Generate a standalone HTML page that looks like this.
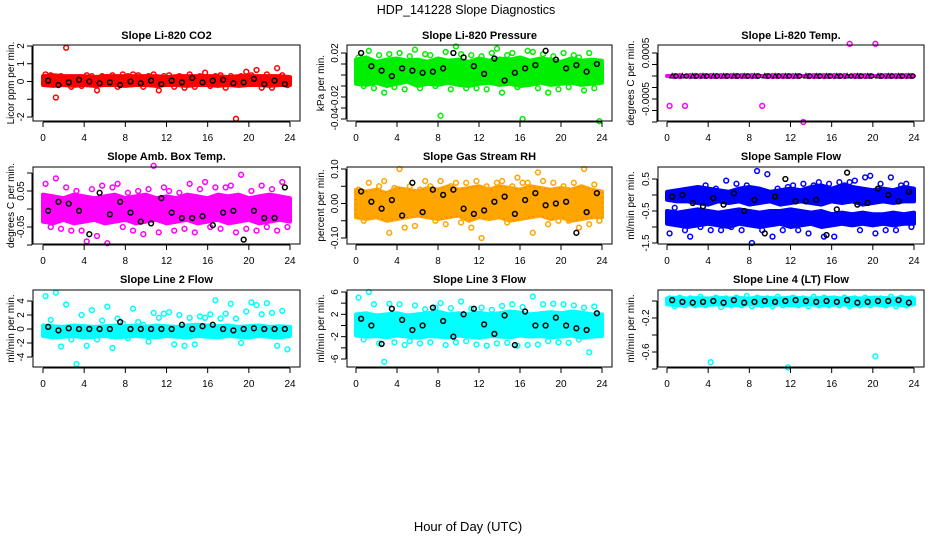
<!DOCTYPE html>
<html><head><meta charset="utf-8">
<style>
html,body{margin:0;padding:0;background:#fff;}
svg{display:block;font-family:"Liberation Sans",sans-serif;}
</style></head>
<body>
<svg id="chart" width="936" height="540" viewBox="0 0 936 540">
<text x="466" y="14" text-anchor="middle" font-size="12.5">HDP_141228  Slope Diagnostics</text>
<text x="468" y="531" text-anchor="middle" font-size="13">Hour of Day (UTC)</text>
</svg>
<script>
const xTicks = [0,4,8,12,16,20,24];

const co2Hi = [0.3,0.35,0.3,0.3,0.3,0.25,0.3,0.3,0.3,0.3,0.3,0.3,0.25,0.3,0.3,0.3,0.3,0.3,0.25,0.3,0.3,0.3,0.3,0.3,0.25];
const co2Lo = [-0.2,-0.25,-0.2,-0.25,-0.2,-0.25,-0.2,-0.2,-0.25,-0.2,-0.2,-0.25,-0.2,-0.2,-0.25,-0.2,-0.2,-0.25,-0.2,-0.25,-0.2,-0.2,-0.25,-0.2,-0.2];
const co2Pts = [0.4,0.35,-0.9,0.3,1.9,-0.3,0.2,-0.25,0.35,0.3,-0.5,0.3,0.25,0.35,-0.3,0.4,0.3,0.4,0.35,-0.3,0.3,0.4,-0.5,0.3,0.35,-0.3,0.3,-0.35,0.4,-0.3,0.3,0.5,-0.25,0.3,0.35,-0.35,0.3,-2.1,0.3,0.55,0.35,0.65,-0.35,0.4,-0.35,0.75,0.35,-0.2];
const co2Black = [0.05,-0.2,-0.05,0.1,0.0,-0.1,-0.05,-0.2,0.0,-0.1,0.05,-0.15,0.05,-0.05,0.2,-0.05,0.05,0.1,-0.1,-0.05,0.15,-0.15,0.05,-0.15];

const presHi = [0.014,0.016,0.012,0.014,0.015,0.013,0.014,0.012,0.015,0.013,0.014,0.012,0.015,0.013,0.015,0.014,0.016,0.013,0.015,0.014,0.012,0.015,0.013,0.014,0.013];
const presLo = [-0.008,-0.009,-0.007,-0.01,-0.008,-0.006,-0.01,-0.008,-0.009,-0.007,-0.009,-0.01,-0.008,-0.007,-0.009,-0.008,-0.01,-0.009,-0.007,-0.009,-0.008,-0.007,-0.009,-0.008,-0.007];
const presPts = [0.016,-0.01,0.022,-0.012,0.018,-0.016,0.019,-0.011,0.02,-0.013,0.017,0.023,-0.012,0.019,0.018,-0.01,-0.037,0.021,-0.013,0.026,0.019,-0.012,0.018,-0.012,0.017,-0.013,0.02,0.024,-0.016,0.018,0.02,-0.011,-0.04,0.022,0.021,-0.012,0.019,-0.016,0.017,-0.013,0.02,-0.011,0.018,0.016,-0.014,0.02,-0.012,-0.042];
const presBlack = [0.02,0.008,0.004,-0.001,0.006,0.004,0.002,0.003,0.006,0.02,0.016,0.008,0.001,0.015,-0.005,0.002,0.006,0.009,0.022,0.014,0.006,0.009,0.003,0.01];

const tempHi = [0,0,0,0,0,0,0,0,0,0,0,0,0,0,0,0,0,0,0,0,0,0,0,0,0];
const tempLo = [0,0,0,0,0,0,0,0,0,0,0,0,0,0,0,0,0,0,0,0,0,0,0,0,0];
const tempPts = [-0.00065,0,0,-0.00065,0,0,0,0,0,0,0,0,0,0,0,0,0,0,-0.00065,0,0,0,0,0,0,0,-0.001,0,0,0,0,0,0,0,0,0.0007,0,0,0,0,0.0007,0,0,0,0,0,0,0];
const tempBlack = [0,0,0,0,0,0,0,0,0,0,0,0,0,0,0,0,0,0,0,0,0,0,0,0];

const ambHi = [0.04,0.035,0.03,0.04,0.035,0.03,0.035,0.04,0.03,0.035,0.04,0.03,0.035,0.03,0.04,0.035,0.03,0.04,0.035,0.04,0.03,0.035,0.04,0.035,0.03];
const ambLo = [-0.035,-0.04,-0.03,-0.04,-0.035,-0.03,-0.04,-0.035,-0.03,-0.04,-0.035,-0.03,-0.04,-0.035,-0.03,-0.04,-0.035,-0.03,-0.04,-0.035,-0.03,-0.04,-0.035,-0.03,-0.035];
const ambPts = [0.07,-0.05,0.085,-0.055,0.06,-0.06,0.05,-0.06,-0.09,0.055,-0.075,0.065,-0.095,0.06,0.07,-0.05,0.045,-0.06,0.05,-0.07,0.055,0.12,-0.065,0.06,0.05,-0.06,0.045,-0.055,0.07,-0.065,0.055,0.075,-0.05,0.06,-0.055,0.06,0.065,-0.065,0.095,-0.055,0.05,-0.06,0.065,-0.05,0.055,-0.06,0.075,-0.05];
const ambBlack = [-0.005,0.02,0.015,-0.005,-0.07,0.045,-0.015,0.02,-0.01,-0.035,-0.04,0.03,-0.01,-0.025,-0.025,-0.02,-0.045,-0.01,-0.005,-0.085,-0.005,-0.025,-0.025,0.06];

const rhHi = [0.04,0.035,0.04,0.03,0.045,0.04,0.035,0.045,0.04,0.05,0.04,0.045,0.05,0.04,0.05,0.045,0.04,0.05,0.045,0.04,0.045,0.04,0.05,0.04,0.035];
const rhLo = [-0.04,-0.045,-0.04,-0.05,-0.045,-0.04,-0.035,-0.04,-0.045,-0.04,-0.035,-0.05,-0.04,-0.045,-0.04,-0.05,-0.045,-0.04,-0.035,-0.045,-0.04,-0.05,-0.045,-0.04,-0.04];
const rhPts = [0.04,-0.05,0.06,-0.035,0.05,0.065,-0.085,0.045,0.1,-0.07,0.05,-0.065,0.04,0.065,0.05,-0.05,0.065,-0.06,0.05,0.06,-0.055,0.06,-0.07,0.065,-0.1,0.05,-0.04,0.06,0.065,-0.055,0.05,0.075,0.06,0.06,-0.085,0.09,0.065,-0.06,0.06,-0.05,0.05,-0.05,0.06,-0.07,0.1,-0.06,0.055,-0.05];
const rhBlack = [0.035,0.005,-0.015,0.01,-0.035,0.06,-0.025,0.04,0.025,0.04,-0.015,-0.03,-0.02,0.005,0.02,-0.03,0.01,0.03,-0.005,0.0,0.005,-0.085,-0.025,0.03];

const flowHi = [0.1,0.15,0.2,0.25,0.2,0.15,0.1,0.2,0.25,0.2,0.1,0.15,0.2,0.15,0.25,0.3,0.2,0.3,0.25,0.2,0.15,0.2,0.15,0.25,0.2];
const flowLo = [-0.15,-0.2,-0.2,-0.25,-0.3,-0.2,-0.25,-0.2,-0.3,-0.25,-0.2,-0.3,-0.25,-0.2,-0.25,-0.3,-0.2,-0.25,-0.2,-0.3,-0.25,-0.2,-0.25,-0.2,-0.2];
const flowHi2 = [-0.5,-0.55,-0.5,-0.45,-0.5,-0.55,-0.5,-0.45,-0.5,-0.55,-0.5,-0.5,-0.45,-0.5,-0.55,-0.5,-0.6,-0.55,-0.6,-0.55,-0.6,-0.6,-0.55,-0.6,-0.55];
const flowLo2 = [-0.9,-0.95,-1.0,-0.95,-0.9,-0.95,-1.0,-0.9,-0.95,-1.0,-0.95,-0.9,-1.0,-0.95,-0.9,-1.0,-0.95,-0.9,-0.95,-0.9,-0.95,-0.9,-0.95,-0.9,-0.9];
const flowPts = [-1.2,-0.4,0.1,-1.1,-1.3,0.2,-1.0,0.3,-1.1,0.2,-1.1,0.45,-1.0,0.35,-1.1,0.3,-1.5,0.75,-1.1,0.65,-1.3,0.2,-1.1,0.25,0.3,-1.1,0.35,-1.2,0.3,0.4,-1.3,0.35,-1.3,0.4,0.3,0.4,0.45,-1.1,0.55,0.6,-1.2,0.35,-1.1,0.55,-1.1,0.3,0.35,-1.0];
const flowBlack = [-0.05,0.0,-0.25,-0.35,-0.1,-0.3,0.05,-0.5,-0.15,-1.2,-0.05,0.5,-0.2,-0.2,-0.15,-1.25,-0.45,0.7,-0.3,-0.25,0.2,0.0,-0.2,0.1];

const l2Hi = [0.5,0.4,0.3,0.5,0.4,0.3,0.4,0.5,0.4,0.5,0.3,0.5,0.4,0.3,0.5,0.6,0.5,0.4,0.5,0.3,0.4,0.5,0.3,0.4,0.3];
const l2Lo = [-1.0,-1.2,-1.1,-1.0,-1.2,-1.1,-1.0,-1.2,-1.1,-1.0,-1.1,-1.2,-1.0,-1.1,-1.2,-1.0,-1.1,-1.2,-1.0,-1.1,-1.2,-1.0,-1.1,-1.2,-1.0];
const l2Pts = [4.7,1.3,5.2,-2.5,3.5,-1.5,-5.0,2.0,-2.4,2.7,-1.5,1.2,3.2,-2.7,1.5,0.8,-1.3,2.9,1.0,0.6,-1.8,2.3,1.6,2.2,2.4,-2.2,2.0,-2.4,1.6,-2.2,1.8,1.6,2.1,4.1,1.5,2.2,3.6,1.5,-2.0,2.5,3.8,3.4,2.1,3.7,2.3,-2.4,2.6,-2.9];
const l2Black = [0.3,-0.2,0.1,0.0,0.0,0.0,0.0,1.0,0.0,0.0,0.0,0.0,0.0,0.6,0.0,0.4,0.6,0.0,-0.2,0.0,0.1,0.0,0.0,0.0];

const l3Hi = [2,2.2,1.8,2,2.2,1.8,2,2.2,2.5,2,2.2,2,2.3,2,2.2,2.5,2.3,2,2.2,2.4,2.2,2.5,2.3,2,2];
const l3Lo = [-1.8,-2,-1.9,-2.1,-1.8,-2,-2.2,-1.9,-2,-2.1,-1.8,-2,-2.2,-1.9,-2,-2.1,-1.8,-2,-1.9,-2.1,-2,-1.8,-2.2,-2,-1.9];
const l3Pts = [5.0,-2.5,6.0,3.8,-3.2,-6.5,3.9,-3.0,3.8,-3.5,-2.8,3.6,-3.2,2.9,-3.0,3.2,4.0,-3.5,3.1,-3.0,4.3,-2.8,3.0,-3.4,3.2,-3.6,2.8,-3.2,3.5,-3.1,3.8,-3.6,3.3,-3.5,5.2,-3.4,3.8,-2.8,3.9,-3.0,3.8,-3.1,3.6,-2.5,3.2,-4.8,3.4,-1.5];
const l3Black = [1.2,0.0,-3.3,3.0,1.0,-0.8,0.0,3.2,0.8,-2.0,2.0,3.0,0.2,-1.5,1.8,-3.5,2.5,0.0,0.0,1.4,0.0,-0.5,-0.8,2.2];

const l4Hi = [0.03,0.04,0.03,0.035,0.03,0.04,0.03,0.035,0.03,0.04,0.035,0.03,0.04,0.035,0.03,0.035,0.04,0.03,0.035,0.03,0.04,0.035,0.03,0.04,0.03];
const l4Lo = [-0.04,-0.05,-0.04,-0.05,-0.045,-0.04,-0.05,-0.045,-0.04,-0.05,-0.045,-0.04,-0.05,-0.045,-0.04,-0.05,-0.045,-0.04,-0.05,-0.045,-0.04,-0.05,-0.04,-0.05,-0.04];
const l4Pts = [0.03,-0.06,0.04,-0.05,0.03,-0.05,0.05,-0.05,-0.72,0.04,-0.07,0.03,-0.05,0.04,-0.05,0.06,-0.06,0.04,-0.05,0.03,-0.06,0.05,-0.05,-0.78,0.04,-0.05,0.03,-0.06,0.05,-0.05,0.04,-0.05,0.03,-0.05,0.04,-0.06,0.03,-0.05,0.04,-0.05,-0.65,0.03,-0.05,0.05,-0.06,0.04,-0.05,0.03];
const l4Black = [0.01,-0.01,-0.02,-0.01,0.0,-0.02,0.01,-0.02,-0.01,0.0,-0.01,0.0,0.01,0.0,-0.01,0.0,-0.01,0.01,-0.02,-0.01,0.0,0.0,0.01,-0.02];

const cols = [{l:33,r:300,x0:43,x24:290,yt:14},{l:347,r:612,x0:356,x24:602,yt:324},{l:658,r:924,x0:667,x24:914,yt:634}];
const rows = [{t:45,b:121,ty:39},{t:167,b:244,ty:160},{t:290,b:367,ty:283}];

const panels = [
 {name:'co2',title:'Slope Li-820 CO2',ytitle:'Licor ppm per min.',c:0,r:0,color:'#ff0000',ref:[2,46,-2,117],ticks:[2,1,0,-1,-2],labels:['2','1','0','','-2'],bands:[[co2Hi,co2Lo]],pts:co2Pts,blk:co2Black},
 {name:'pressure',title:'Slope Li-820 Pressure',ytitle:'kPa per min.',c:1,r:0,color:'#00ee00',ref:[0.02,53,-0.04,119],ticks:[0.02,0.01,0,-0.01,-0.02,-0.03,-0.04],labels:['0.02','','','','-0.02','','-0.04'],bands:[[presHi,presLo]],pts:presPts,blk:presBlack},
 {name:'li820-temp',title:'Slope Li-820 Temp.',ytitle:'degrees C per min.',c:2,r:0,color:'#ff00ff',ref:[0.0005,53,0,76],ticks:[0.0005,0.00025,0,-0.00025,-0.0005,-0.00075,-0.001],labels:['0.0005','','','','-0.0005','',''],bands:[[tempHi,tempLo]],pts:tempPts,blk:tempBlack,tri:true},
 {name:'amb-box-temp',title:'Slope Amb. Box Temp.',ytitle:'degrees C per min.',c:0,r:1,color:'#ff00ff',ref:[0.05,191,-0.05,227],ticks:[0.1,0.05,0,-0.05,-0.1],labels:['','0.05','','-0.05',''],bands:[[ambHi,ambLo]],pts:ambPts,blk:ambBlack},
 {name:'gas-stream-rh',title:'Slope Gas Stream RH',ytitle:'percent per min.',c:1,r:1,color:'#ffa500',inner:'#ff2000',ref:[0.1,169,-0.1,238],ticks:[0.1,0.05,0,-0.05,-0.1],labels:['0.10','','0.00','','-0.10'],bands:[[rhHi,rhLo]],pts:rhPts,blk:rhBlack},
 {name:'sample-flow',title:'Slope Sample Flow',ytitle:'ml/min per min.',c:2,r:1,color:'#0000ff',ref:[0.5,179,-1.5,243],ticks:[0.5,0,-0.5,-1,-1.5],labels:['0.5','','-0.5','','-1.5'],bands:[[flowHi,flowLo],[flowHi2,flowLo2]],pts:flowPts,blk:flowBlack},
 {name:'line2-flow',title:'Slope Line 2 Flow',ytitle:'ml/min per min.',c:0,r:2,color:'#00ffff',ref:[4,301,-4,357],ticks:[4,2,0,-2,-4],labels:['4','2','0','-2','-4'],bands:[[l2Hi,l2Lo]],pts:l2Pts,blk:l2Black},
 {name:'line3-flow',title:'Slope Line 3 Flow',ytitle:'ml/min per min.',c:1,r:2,color:'#00ffff',ref:[6,292,-6,359],ticks:[6,4,2,0,-2,-4,-6],labels:['6','','2','','-2','','-6'],bands:[[l3Hi,l3Lo]],pts:l3Pts,blk:l3Black},
 {name:'line4-flow',title:'Slope Line 4 (LT) Flow',ytitle:'ml/min per min.',c:2,r:2,color:'#00ffff',ref:[-0.2,318,-0.6,352],ticks:[0,-0.2,-0.4,-0.6,-0.8],labels:['','-0.2','','-0.6',''],bands:[[l4Hi,l4Lo]],pts:l4Pts,blk:l4Black}
];

const NS='http://www.w3.org/2000/svg';
const svg=document.getElementById('chart');
function mk(tag,attrs,parent){const e=document.createElementNS(NS,tag);for(const k in attrs)e.setAttribute(k,attrs[k]);(parent||svg).appendChild(e);return e;}

panels.forEach(p=>{
  const C=cols[p.c],R=rows[p.r];
  const xs=h=>C.x0+h*(C.x24-C.x0)/24;
  const [v1,y1,v2,y2]=p.ref;
  const ys=v=>y1+(v-v1)*(y2-y1)/(v2-v1);
  const g=mk('g',{});
  
  
  const t=mk('text',{x:(C.l+C.r)/2,y:R.ty,'text-anchor':'middle','font-size':'11','font-weight':'bold'},g);
  t.textContent=p.title;
  
  
  p.bands.forEach(b=>{
    const [hi,lo]=b;
    let pts=[];
    hi.forEach((v,i)=>pts.push(xs(i)+','+ys(v)));
    for(let i=lo.length-1;i>=0;i--)pts.push(xs(i)+','+ys(lo[i]));
    const pg=mk('polygon',{points:pts.join(' '),fill:p.color,stroke:p.color,'stroke-width':4,'stroke-linejoin':'round'},g);
    
    
    if(p.inner){mk('polygon',{points:pts.join(' '),fill:'none',stroke:p.inner,'stroke-width':1,'stroke-dasharray':'1 4',opacity:0.5},g);}
  });
  p.pts.forEach((v,i)=>{
    const c=mk('circle',{cx:xs(0.25+0.5*i),cy:ys(v),r:2.4,fill:'none',stroke:p.color,'stroke-width':1.5},g);
    
    
  });
  p.blk.forEach((v,i)=>{
    let m;
    if(p.tri){
      const x=xs(0.5+i),y=ys(v);
      m=mk('path',{d:`M${x-2.5},${y+2} L${x+2.5},${y+2} L${x},${y-2.5} Z`,fill:'none',stroke:'#000','stroke-width':1.1},g);
      mk('circle',{cx:x+4,cy:y,r:2.1,fill:'none',stroke:'#000','stroke-width':1.3},g);
    } else {
      m=mk('circle',{cx:xs(0.5+i),cy:ys(v),r:2.4,fill:'none',stroke:'#000','stroke-width':1.5},g);
    }
    
    
  });
  const bx=mk('rect',{x:C.l,y:R.t,width:C.r-C.l,height:R.b-R.t,fill:'none',stroke:'#000','stroke-width':1},g);
  
  
  mk('line',{x1:xs(0),x2:xs(24),y1:R.b+1,y2:R.b+1,stroke:'#000'},g);
  xTicks.forEach(h=>{
    mk('line',{x1:xs(h),x2:xs(h),y1:R.b+1,y2:R.b+6,stroke:'#000'},g);
    const tl=mk('text',{x:xs(h),y:R.b+20,'text-anchor':'middle','font-size':'10'},g);
    tl.textContent=h;
    
    
  });
  const yT=ys(p.ticks[0]),yB=ys(p.ticks[p.ticks.length-1]);
  mk('line',{x1:C.l-1,x2:C.l-1,y1:yT,y2:yB,stroke:'#000'},g);
  p.ticks.forEach((v,i)=>{
    const y=ys(v);
    mk('line',{x1:C.l-6,x2:C.l-1,y1:y,y2:y,stroke:'#000'},g);
    if(p.labels[i]){
      const tl=mk('text',{x:C.l-9,y:y,'text-anchor':'middle','font-size':'10',transform:`rotate(-90 ${C.l-9} ${y})`},g);
      tl.textContent=p.labels[i];
      
      
    }
  });
  const yc=(R.t+R.b)/2;
  const yt=mk('text',{x:C.yt,y:yc,'text-anchor':'middle','font-size':'10',transform:`rotate(-90 ${C.yt} ${yc})`},g);
  yt.textContent=p.ytitle;
  
  
});
</script>
</body></html>
